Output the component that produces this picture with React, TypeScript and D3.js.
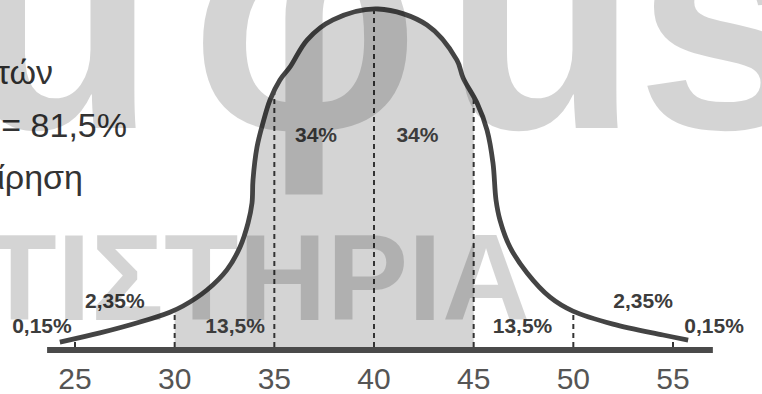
import React from "react";
import * as d3 from "d3";

// ---- data ----
const tickValues = [25, 30, 35, 40, 45, 50, 55];
const dashedValues = [25, 30, 35, 40, 45, 50, 55];
const shadeFrom = 30;
const shadeTo = 45;
const axisFrom = 23.6;
const axisTo = 57.0;

// hand-drawn bell curve: value on the axis, height as share of the peak
const curveValues = [
  24.24, 26.25, 28.26, 29.76, 30.42, 31.62, 32.62, 33.28, 33.68, 33.88, 33.93,
  34.13, 34.43, 34.78, 35.28, 35.79, 36.64, 37.94, 40.2, 42.66,
  44.16, 44.47, 45.17, 45.67, 45.97, 46.12, 46.32, 46.82, 47.68, 48.83, 49.98,
  51.99, 54.5, 55.76,
];
const curveHeights = [
  0.023, 0.05, 0.082, 0.111, 0.129, 0.176, 0.235, 0.302, 0.372, 0.431, 0.499,
  0.595, 0.666, 0.733, 0.792, 0.83, 0.909, 0.968, 1.0, 0.953,
  0.85, 0.798, 0.724, 0.645, 0.548, 0.44, 0.381, 0.302, 0.226, 0.155, 0.114,
  0.076, 0.044, 0.029,
];

const pctTexts = ["0,15%", "2,35%", "13,5%", "34%", "34%", "13,5%", "2,35%", "0,15%"];
const pctValues = [23.34, 27.0, 33.03, 37.09, 42.18, 47.45, 53.5, 57.06];
const pctHeights = [0.05, 0.123, 0.05, 0.61, 0.61, 0.05, 0.123, 0.05];

const sideLines = ["τών", "= 81,5%", "ίρηση"];

const wmTopLetters = ["u", "φ", "u", "s"];
const wmBottom = "ΦΡΟΝΤΙΣΤΗΡΙΑ";

export default function App() {
  const W = 762;
  const H = 394;
  const x = d3.scaleLinear().domain([25, 55]).range([75, 673]);
  const y = d3.scaleLinear().domain([0, 1]).range([350, 9]);

  const pts: [number, number][] = curveValues.map((v, i) => [v, curveHeights[i]]);
  const line = d3
    .line<[number, number]>()
    .x((d) => x(d[0]))
    .y((d) => y(d[1]))
    .curve(d3.curveCatmullRom.alpha(0.5));
  const area = d3
    .area<[number, number]>()
    .x((d) => x(d[0]))
    .y0(y(0))
    .y1((d) => y(d[1]))
    .curve(d3.curveCatmullRom.alpha(0.5));

  const font = "'Liberation Sans', Arial, sans-serif";
  const wmTopX = [59, 305, 541, 725];

  return (
    <svg
      width={W}
      height={H}
      style={{ position: "absolute", left: 0, top: 0, display: "block", background: "#fff" }}
    >
      <defs>
        <clipPath id="under">
          <path d={area(pts) || ""} />
        </clipPath>
      </defs>

      {/* shaded band between 30 and 45 */}
      <rect
        x={x(shadeFrom)}
        y={0}
        width={x(shadeTo) - x(shadeFrom)}
        height={y(0)}
        fill="#d4d4d4"
        clipPath="url(#under)"
      />

      {/* dashed verticals */}
      <g clipPath="url(#under)">
        {dashedValues.map((v) => (
          <line
            key={v}
            x1={x(v)}
            x2={x(v)}
            y1={y(0) - 3}
            y2={0}
            stroke="#333"
            strokeWidth={2}
            strokeDasharray="5,4"
          />
        ))}
      </g>

      {/* curve */}
      <path d={line(pts) || ""} fill="none" stroke="#444" strokeWidth={4.8} />

      {/* axis */}
      <line x1={x(axisFrom)} x2={x(axisTo)} y1={y(0)} y2={y(0)} stroke="#4a4a4a" strokeWidth={6} />

      {/* tick labels */}
      {tickValues.map((v) => (
        <text
          key={v}
          x={x(v)}
          y={389}
          textAnchor="middle"
          fontFamily={font}
          fontSize={30}
          fill="#555"
        >
          {v}
        </text>
      ))}

      {/* percentage labels */}
      {pctTexts.map((t, i) => (
        <text
          key={i}
          x={x(pctValues[i])}
          y={y(pctHeights[i])}
          textAnchor="middle"
          fontFamily={font}
          fontWeight="bold"
          fontSize={21}
          fill="#3c3c3c"
        >
          {t}
        </text>
      ))}

      {/* side text (cut at the left edge) */}
      <text x={53} y={84} textAnchor="end" fontFamily={font} fontSize={34} fill="#333">
        {sideLines[0]}
      </text>
      <text x={127} y={137} textAnchor="end" fontFamily={font} fontSize={34} fill="#333">
        {sideLines[1]}
      </text>
      <text x={83} y={189} textAnchor="end" fontFamily={font} fontSize={34} fill="#333">
        {sideLines[2]}
      </text>

      {/* watermark */}
      <g fill="#000" fillOpacity={0.17} fontFamily={font} fontWeight="bold" pointerEvents="none">
        {wmTopLetters.map((c, i) => (
          <text key={i} x={wmTopX[i]} y={128} textAnchor="middle" fontSize={320}>
            {c}
          </text>
        ))}
        <text x={530} y={320} textAnchor="end" fontSize={122}>
          {wmBottom}
        </text>
      </g>
    </svg>
  );
}
